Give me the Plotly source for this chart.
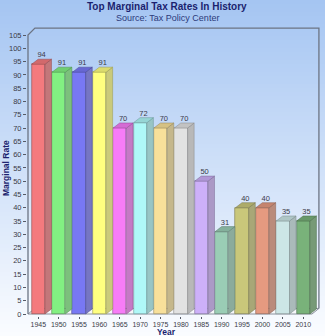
import plotly.graph_objects as go

# ---- data -------------------------------------------------------------
years = ["1945", "1950", "1955", "1960", "1965", "1970", "1975",
         "1980", "1985", "1990", "1995", "2000", "2005", "2010"]
rates = [94, 91, 91, 91, 70, 72, 70, 70, 50, 31, 40, 40, 35, 35]
front_colors = ["#F47A7E", "#82F082", "#7878F4", "#FFFF80", "#F77CF7",
                "#AFF8F8", "#F8E09A", "#E2E2E2", "#CDB0F9", "#9ACDB5",
                "#C9C77A", "#E59A80", "#CCE6E6", "#79B27A"]

# ---- geometry ---------------------------------------------------------
W, H = 325, 336
L, R, T, B = 27, 2, 26, 20
x_lo, x_hi = -0.554, 13.97
y_lo, y_hi = -0.75, 108.4

BAR_W = 0.653          # front face width (category units)
DX, DY = 0.32, 1.9     # bar depth offset (x units, y units)
AX = -0.505            # left axis position
WDX, WDY = 0.34, 2.6   # back wall offset
FDY = 2.1              # floor depth
X_FLOOR = 13.43        # floor front right end
X_WALL = X_FLOOR + WDX

plot_w = W - L - R
plot_h = H - T - B


def px_to_paper_x(px):
    return (px - L) / plot_w


def px_to_paper_y(py):
    return (H - B - py) / plot_h


def hex_rgb(h):
    h = h.lstrip("#")
    return tuple(int(h[i:i + 2], 16) for i in (0, 2, 4))


def rgb_hex(c):
    return "#%02x%02x%02x" % tuple(max(0, min(255, int(round(v)))) for v in c)


def side_shade(h):
    r, g, b = hex_rgb(h)
    return rgb_hex((0.62 * r + 0.38 * 115, 0.62 * g + 0.38 * 115, 0.62 * b + 0.38 * 115))


def top_shade(h):
    r, g, b = hex_rgb(h)
    return rgb_hex((0.86 * r, 0.86 * g, 0.86 * b))


def edge_shade(h):
    r, g, b = hex_rgb(h)
    return rgb_hex((0.6 * r, 0.6 * g, 0.6 * b))


fig = go.Figure()
positions = list(range(len(years)))

# front faces
fig.add_trace(go.Bar(
    x=positions, y=rates, width=BAR_W,
    marker=dict(color=front_colors,
                line=dict(color=[edge_shade(c) for c in front_colors], width=0.6)),
    hoverinfo="skip", showlegend=False,
))

# side and top faces
for i, v, c in zip(positions, rates, front_colors):
    xl, xr = i - BAR_W / 2, i + BAR_W / 2
    fig.add_trace(go.Scatter(
        x=[xr, xr + DX, xr + DX, xr, xr], y=[0, DY, v + DY, v, 0],
        mode="lines", fill="toself", fillcolor=side_shade(c),
        line=dict(color=edge_shade(c), width=0.5),
        hoverinfo="skip", showlegend=False,
    ))
    fig.add_trace(go.Scatter(
        x=[xl, xr, xr + DX, xl + DX, xl], y=[v, v, v + DY, v + DY, v],
        mode="lines", fill="toself", fillcolor=top_shade(c),
        line=dict(color=edge_shade(c), width=0.5),
        hoverinfo="skip", showlegend=False,
    ))

# value labels
fig.add_trace(go.Scatter(
    x=[i + DX / 2 for i in positions], y=[v + DY for v in rates],
    mode="text", text=[str(v) for v in rates], textposition="top center",
    textfont=dict(family="Liberation Sans, Arial", size=7.5, color="#3a3a48"),
    hoverinfo="skip", showlegend=False,
))

shapes = []
# background gradient
n_bands = 84
top_c = (165, 197, 242)
bot_c = (250, 252, 255)
for k in range(n_bands):
    t = k / (n_bands - 1)
    col = tuple(top_c[j] + (bot_c[j] - top_c[j]) * t for j in range(3))
    y0 = k * H / n_bands
    y1 = (k + 1) * H / n_bands + 0.6
    shapes.append(dict(
        type="rect", xref="paper", yref="paper", layer="below",
        x0=px_to_paper_x(0), x1=px_to_paper_x(W),
        y0=px_to_paper_y(y1), y1=px_to_paper_y(y0),
        fillcolor=rgb_hex(col), line=dict(width=0),
    ))

frame_col = "#6c7484"
# floor
shapes.append(dict(
    type="path", xref="x", yref="y", layer="below",
    path=f"M {AX},0 L {X_FLOOR},0 L {X_WALL},{FDY} L {AX + WDX},{FDY} Z",
    fillcolor="#f6f7fa", line=dict(color="#8a909c", width=1),
))
# axis and back wall outline
shapes.append(dict(
    type="path", xref="x", yref="y", layer="below",
    path=(f"M {AX},0 L {AX},105 L {AX + WDX},{105 + WDY} "
          f"L {X_WALL},{105 + WDY} L {X_WALL},{FDY}"),
    line=dict(color=frame_col, width=1.3),
))

annotations = [
    dict(text="<b>Top Marginal Tax Rates In History</b>", xref="paper", yref="paper",
         x=px_to_paper_x(166.5), y=px_to_paper_y(7), xanchor="center", yanchor="middle",
         showarrow=False, font=dict(family="Liberation Sans, Arial", size=10, color="#1b1f6e")),
    dict(text="Source: Tax Policy Center", xref="paper", yref="paper",
         x=px_to_paper_x(167.5), y=px_to_paper_y(17.8), xanchor="center", yanchor="middle",
         showarrow=False, font=dict(family="Liberation Sans, Arial", size=9, color="#2c3a7a")),
    dict(text="<b>Year</b>", xref="paper", yref="paper",
         x=px_to_paper_x(166.7), y=px_to_paper_y(331.5), xanchor="center", yanchor="middle",
         showarrow=False, font=dict(family="Liberation Sans, Arial", size=8.5, color="#1b1f6e")),
    dict(text="<b>Marginal Rate</b>", xref="paper", yref="paper", textangle=-90,
         x=px_to_paper_x(6), y=px_to_paper_y(168), xanchor="center", yanchor="middle",
         showarrow=False, font=dict(family="Liberation Sans, Arial", size=8.5, color="#1b1f6e")),
]

fig.update_layout(
    width=W, height=H,
    margin=dict(l=L, r=R, t=T, b=B),
    paper_bgcolor="#ffffff",
    plot_bgcolor="rgba(0,0,0,0)",
    shapes=shapes,
    annotations=annotations,
    bargap=0,
    xaxis=dict(
        range=[x_lo, x_hi], tickmode="array", tickvals=positions, ticktext=years,
        showgrid=False, zeroline=False, showline=False,
        ticks="outside", ticklen=2, tickcolor="#555a66", tickwidth=1,
        tickfont=dict(family="Liberation Sans, Arial", size=7, color="#3a3a48"),
    ),
    yaxis=dict(
        range=[y_lo, y_hi], tickmode="array", tickvals=list(range(0, 106, 5)),
        showgrid=False, zeroline=False, showline=False,
        ticks="outside", ticklen=3, tickcolor="#555a66", tickwidth=1,
        tickfont=dict(family="Liberation Sans, Arial", size=7.5, color="#3a3a48"),
    ),
)

fig.write_html("out.html")
